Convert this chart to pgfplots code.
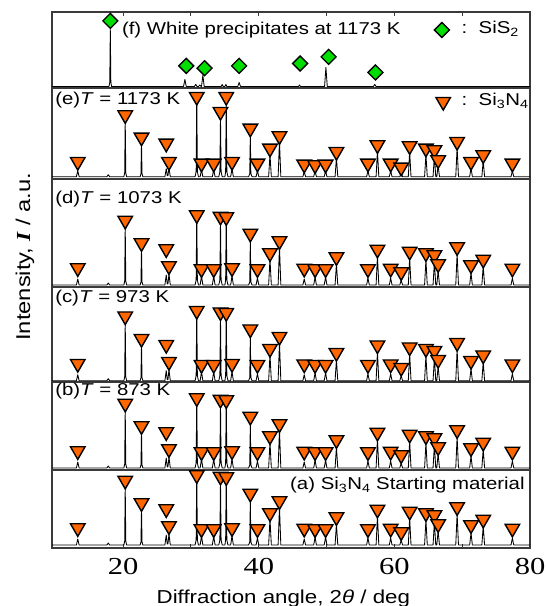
\documentclass[border=0pt]{standalone}
\usepackage{fontspec}
\setmainfont{Liberation Sans}[FakeStretch=1.19]
\newfontfamily\tickfont{Liberation Serif}[FakeStretch=1.25]
\newfontfamily\serifbi{Liberation Serif}[FakeStretch=1.17]
\usepackage{pgfplots}
\pgfplotsset{compat=1.18}
\usepackage{pgfplotstable}

\definecolor{triorange}{HTML}{FF6600}
\definecolor{diagreen}{HTML}{00DD00}
\definecolor{framegray}{HTML}{3A3A3A}

% Si3N4 diffraction profile, intensity above the baseline
% s: patterns (a)-(d), e: pattern (e)
\pgfplotstableread{
x      s    e
9.5    0    0
13.1   0    0
13.3   6    6
13.5   0    0
17.6   0    0
17.8   2    2
18.0   0    0
20.1   0    0
20.22  4    4
20.3   58   56
20.38  4    4
20.5   0    0
22.5   0    0
22.62  3    3
22.7   36   33
22.78  3    3
22.9   0    0
26.15  0    0
26.35  10   8
26.5   1    1
26.6   1    1
26.75  11   9
26.95  0    0
30.6   0    0
30.76  5    5
30.85  72   82
30.94  5    5
31.1   0    0
31.35  0    0
31.55  9    7
31.75  0    0
33.15  0    0
33.35  9    7
33.55  0    0
34.1   0    0
34.26  5    5
34.35  64   59
34.44  5    5
34.6   0    0
35.0   0    0
35.11  5    5
35.2   70   76
35.29  5    5
35.45  0    0
35.85  0    0
36.05  9    8
36.25  0    0
38.5   0    0
38.67  3    3
38.75  45   42
38.83  3    3
39.0   0    0
39.6   0    0
39.8   7    6
40.0   0    0
41.45  0    0
41.65  26   22
41.85  0    0
42.85  0    0
43.05  38   35
43.25  0    0
46.5   0    0
46.7   6    5
46.9   0    0
48.1   0    0
48.3   8    6
48.5   0    0
49.65  0    0
49.85  8    6
50.05  0    0
51.25  0    0
51.45  21   19
51.65  0    0
55.9   0    0
56.1   7    6
56.3   0    0
57.3   0    0
57.5   29   26
57.7   0    0
59.25  0    0
59.45  7    6
59.65  0    0
60.8   0    0
61.0   5    4
61.2   0    0
62.05  0    0
62.25  27   25
62.45  0    0
64.45  0    0
64.65  25   22
64.85  0    0
65.7   0    0
65.9   23   21
66.1   0    0
66.25  0    0
66.45  14   11
66.65  0    0
69.05  0    0
69.25  31   29
69.45  0    0
71.1   0    0
71.3   12   9
71.5   0    0
72.9   0    0
73.1   19   16
73.3   0    0
77.2   0    0
77.4   7    6
77.6   0    0
80     0    0
}\sinpat

% Si3N4 reflection markers, height above the baseline
\pgfplotstableread{
x      s     e
13.3   17    15
20.3   64.5  61.7
22.7   42    39.3
26.35  36    33.3
26.75  19    15
30.85  70    80
31.55  16    13.3
33.35  16    13.3
34.35  68.5  65
35.2   68    80
36.05  17    15
38.75  51.5  48.3
39.8   16    13.3
41.65  32    28.3
43.05  44    40.7
46.7   16.5  12.3
48.3   16    11.7
49.85  16    12.3
51.45  28    25
56.1   16    13.3
57.5   35.5  31.7
59.45  16.5  13.3
61.0   13    9.3
62.25  33.5  30.7
64.65  32    28.3
65.9   30    26.7
66.45  21    16.7
69.25  38    35
71.3   20    15
73.1   25.5  21.7
77.4   16.5  13.3
}\sintri

% white precipitates (SiS2) profile
\pgfplotstableread{
x      y
9.5    0
17.9   0
18.02  4
18.1   57
18.18  4
18.3   0
28.9   0
29.1   7
29.3   0
30.5   0
30.7   2
30.9   0
31.1   0
31.3   1.5
31.5   0
31.55  0
31.75  11
31.95  0
34.45  0
34.6   2
34.75  0
35.0   0
35.15  2
35.3   0
36.9   0
37.1   4
37.3   0
45.85  0
46.0   1.5
46.15  0
49.7   0
49.9   19
50.1   0
56.9   0
57.1   2
57.3   0
80     0
}\sispat

% SiS2 reflection markers
\pgfplotstableread{
x     y
18.1  65.6
29.3  20.6
32.0  18.3
37.1  20.6
46.1  23
50.3  29.6
57.2  14
}\sistri

\newcommand\panelfont{\fontsize{17.2}{20}\selectfont}

\begin{document}
\begin{tikzpicture}
\useasboundingbox (0,0) rectangle (546bp,606bp);
\begin{axis}[
  at={(52bp,58bp)}, anchor=south west,
  width=478bp, height=536bp, scale only axis,
  xmin=9.5, xmax=80, ymin=0, ymax=536,
  clip=false,
  axis line style={framegray, line width=1.2bp},
  xtick={20,40,60,80}, minor xtick={30,50,70},
  tick align=inside, xtick pos=both, ytick=\empty,
  major tick length=4bp, minor tick length=4bp,
  tick style={framegray, line width=1bp},
  /pgf/number format/assume math mode=true,
  xticklabel style={font=\tickfont\fontsize{24.5}{26}\selectfont, anchor=base, yshift=-26bp},
  xlabel={Diffraction angle, 2\textit{θ} / deg},
  xlabel style={at={(axis description cs:0.484,0)}, anchor=base, yshift=-55bp,
    font=\fontsize{18.8}{22}\selectfont},
  ylabel={Intensity, {\serifbi\bfseries\itshape I} / a.u.},
  ylabel style={at={(axis description cs:-0.046,0.5435)}, anchor=base,
    font=\fontsize{20}{22}\selectfont},
  trace/.style={black, line width=0.85bp, line join=round},
  si3n4/.style={only marks, mark=triangle*, mark size=8.4bp,
    mark options={rotate=180, fill=triorange, draw=black, line width=1.4bp}},
  sis2/.style={only marks, mark=square*, mark size=5.3bp,
    mark options={rotate=45, fill=diagreen, draw=black, line width=1.3bp}},
  panelsep/.style={framegray, line width=1.2bp},
]
% panel dividers
\addplot[panelsep] coordinates {(9.5,78) (80,78)};
\addplot[panelsep] coordinates {(9.5,166) (80,166)};
\addplot[panelsep] coordinates {(9.5,261) (80,261)};
\addplot[panelsep] coordinates {(9.5,369) (80,369)};
\addplot[panelsep] coordinates {(9.5,460) (80,460)};

% diffraction patterns, stacked
\addplot[trace] table[x=x, y expr=\thisrow{s}+3]     {\sinpat};
\addplot[trace] table[x=x, y expr=\thisrow{s}+80]    {\sinpat};
\addplot[trace] table[x=x, y expr=\thisrow{s}+167.3] {\sinpat};
\addplot[trace] table[x=x, y expr=\thisrow{s}+263]   {\sinpat};
\addplot[trace] table[x=x, y expr=\thisrow{e}+371.3] {\sinpat};
\addplot[trace] table[x=x, y expr=\thisrow{y}+461.5] {\sispat};

% phase markers
\addplot[si3n4] table[x=x, y expr=\thisrow{s}+3]     {\sintri};
\addplot[si3n4] table[x=x, y expr=\thisrow{s}+80]    {\sintri};
\addplot[si3n4] table[x=x, y expr=\thisrow{s}+167.3] {\sintri};
\addplot[si3n4] table[x=x, y expr=\thisrow{s}+263]   {\sintri};
\addplot[si3n4] table[x=x, y expr=\thisrow{e}+371.3] {\sintri};
\addplot[sis2]  table[x=x, y expr=\thisrow{y}+461.5] {\sistri};

% key markers
\addplot[sis2]  coordinates {(67.0,518)};
\addplot[si3n4] coordinates {(67.2,446.3)};

% labels
\node[anchor=west, inner sep=0, font=\panelfont] at (axis cs:19.8,518) {(f) White precipitates at 1173 K};
\node[anchor=west, inner sep=0, font=\panelfont] at (axis cs:69.9,519) {:\ \ SiS\textsubscript{2}};
\node[anchor=west, inner sep=0, font=\panelfont] at (axis cs:69.9,447) {:\ \ Si\textsubscript{3}N\textsubscript{4}};
\node[anchor=west, inner sep=0, font=\panelfont] at (axis cs:9.95,448) {(e)\textit{T} = 1173 K};
\node[anchor=west, inner sep=0, font=\panelfont] at (axis cs:9.95,349) {(d)\textit{T} = 1073 K};
\node[anchor=west, inner sep=0, font=\panelfont] at (axis cs:9.95,250) {(c)\textit{T} = 973 K};
\node[anchor=west, inner sep=0, font=\panelfont] at (axis cs:9.95,157) {(b)\textit{T} = 873 K};
\node[anchor=west, inner sep=0, font=\panelfont] at (axis cs:44.6,63) {(a) Si\textsubscript{3}N\textsubscript{4} Starting material};
\end{axis}
\end{tikzpicture}
\end{document}
